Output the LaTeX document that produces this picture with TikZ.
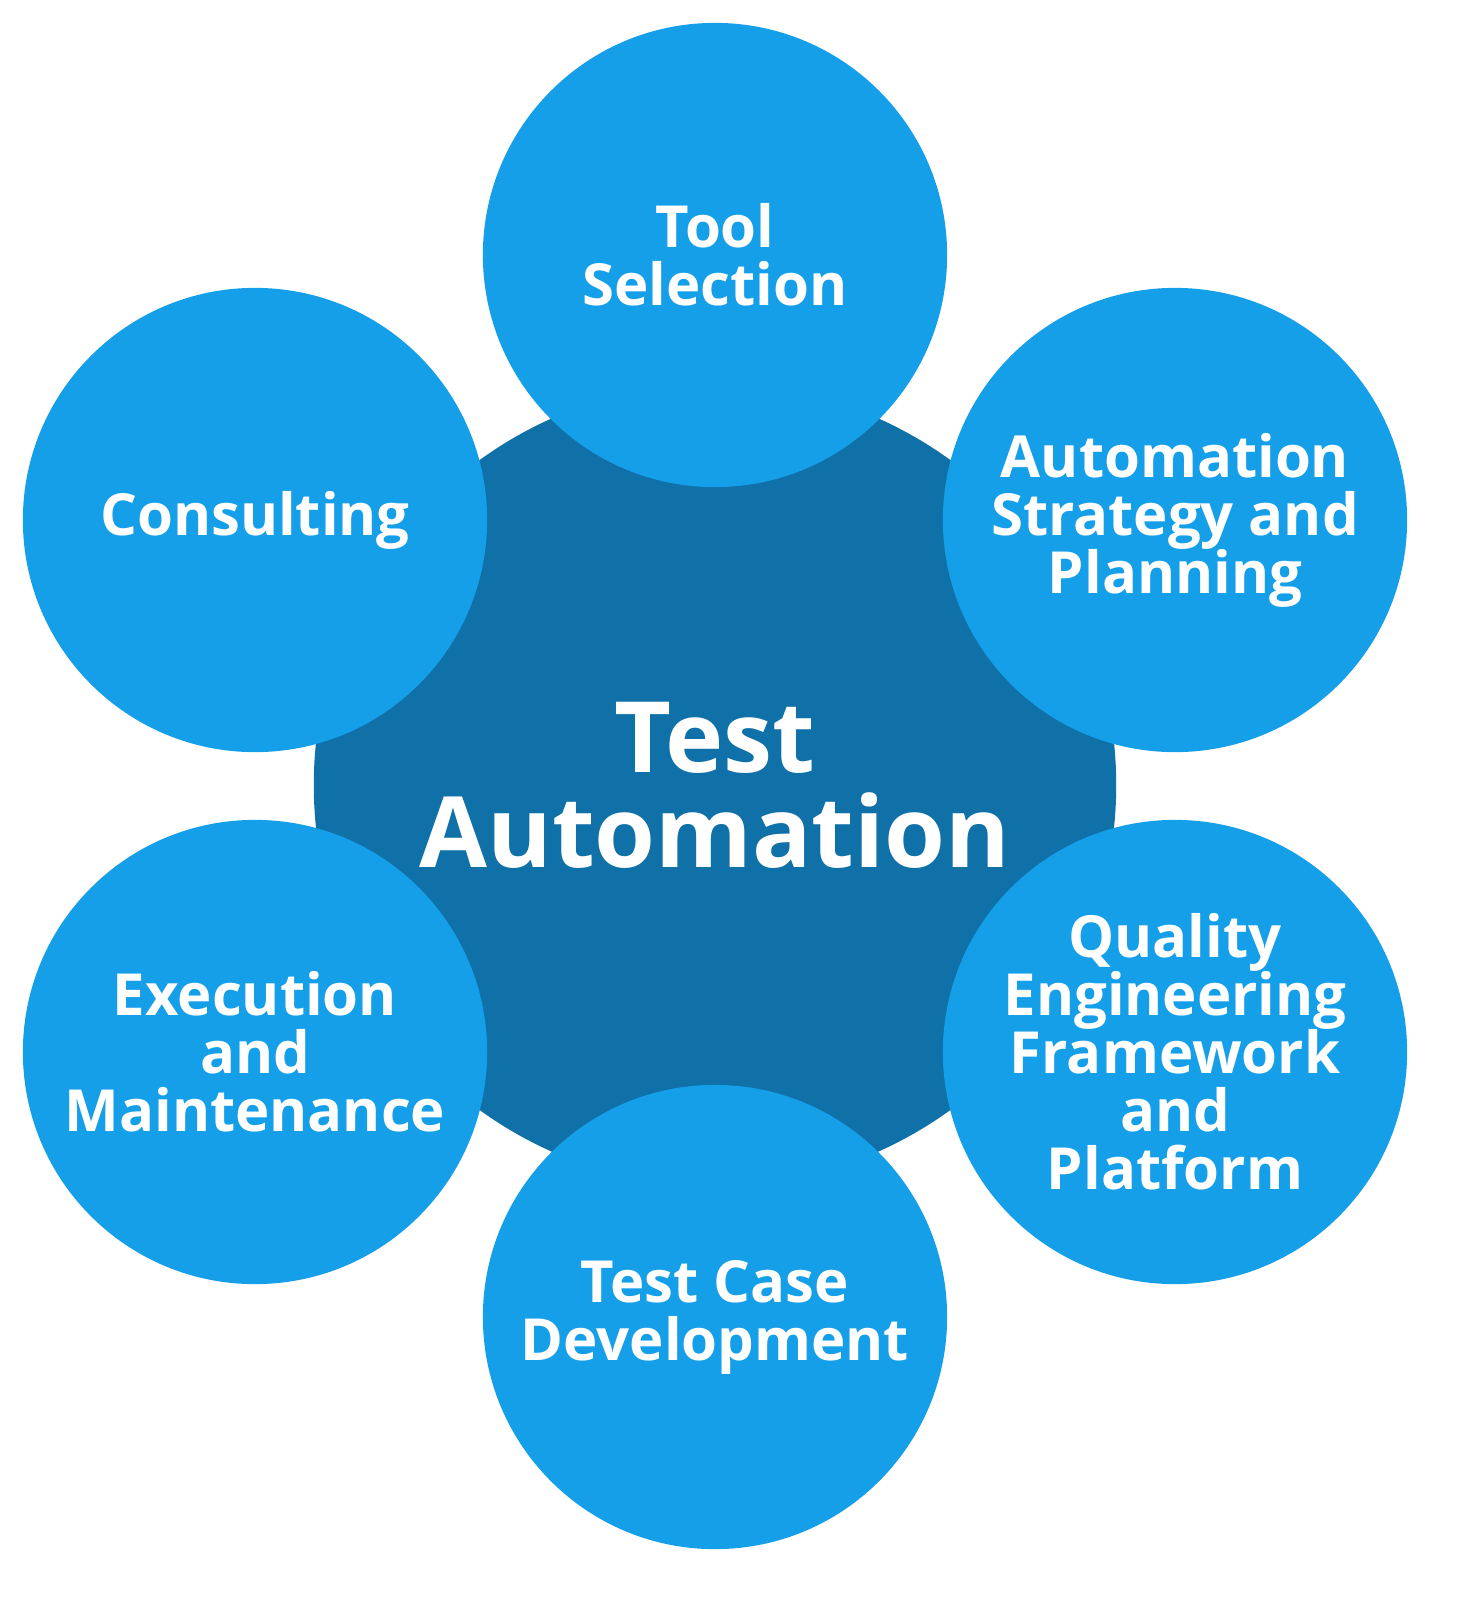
\documentclass[tikz,border=0pt]{standalone}
\usepackage{fontspec}
\setmainfont{Open Sans}
\usetikzlibrary{positioning}
\definecolor{hubblue}{HTML}{1070A8}
\definecolor{petalblue}{HTML}{159FE9}
\tikzset{
  hub/.style={circle, fill=hubblue, minimum size=8.02cm, inner sep=0pt,
    text=white, align=center, font=\fontsize{28}{27}\selectfont\bfseries},
  petal/.style={circle, fill=petalblue, minimum size=4.64cm, inner sep=0pt,
    text=white, align=center, font=\fontsize{16.5}{16.5}\selectfont\bfseries}
}
\begin{document}
\begin{tikzpicture}[x=0.01cm,y=-0.01cm]
\useasboundingbox (0,0) rectangle (1456,1605);
\node[hub] (hub) at (715,785) {Test\\Automation};
% petals around the hub
\node[petal] (tool) at (715,255) {Tool\\Selection};
\node[petal] (strategy) at (1175,520) {Automation\\Strategy and\\Planning};
\node[petal] (quality) at (1175,1052) {Quality\\Engineering\\Framework\\and\\Platform};
\node[petal] (cases) at (715,1317) {Test Case\\Development};
\node[petal] (execution) at (255,1052) {Execution\\and\\Maintenance};
\node[petal] (consulting) at (255,520) {Consulting};
\end{tikzpicture}
\end{document}
